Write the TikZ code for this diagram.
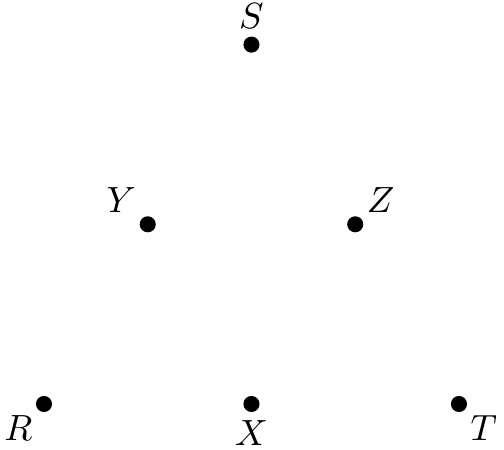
\documentclass[tikz,border=0pt]{standalone}
\usepackage{tikz}
\tikzstyle{point} = [
    circle,
    fill=black,
    inner sep=0pt,
    minimum size=1.55mm
    ]

\begin{document}
\begin{tikzpicture}
        \useasboundingbox (-0.424,-0.443) rectangle (4.434,3.894);

        \node (R) [point, label={[label distance=-1mm]below left:$R$}] at (0,0) {};
        \node (X) [point, label={[label distance=-0.5mm]below:$X$}] at (2,0) {};
        \node (T) [point, label={[label distance=-1mm]below right:$T$}] at (4,0) {};

        \node (Y) [point, label={[label distance=-1mm]above left:$Y$}] at (1,1.732) {};
        \node (Z) [point, label={[label distance=-1mm]above right:$Z$}] at (3,1.732) {};

        \node (S) [point, label={[label distance=-0.5mm]above:$S$}] at (2,3.464) {};

    \end{tikzpicture}
\end{document}
